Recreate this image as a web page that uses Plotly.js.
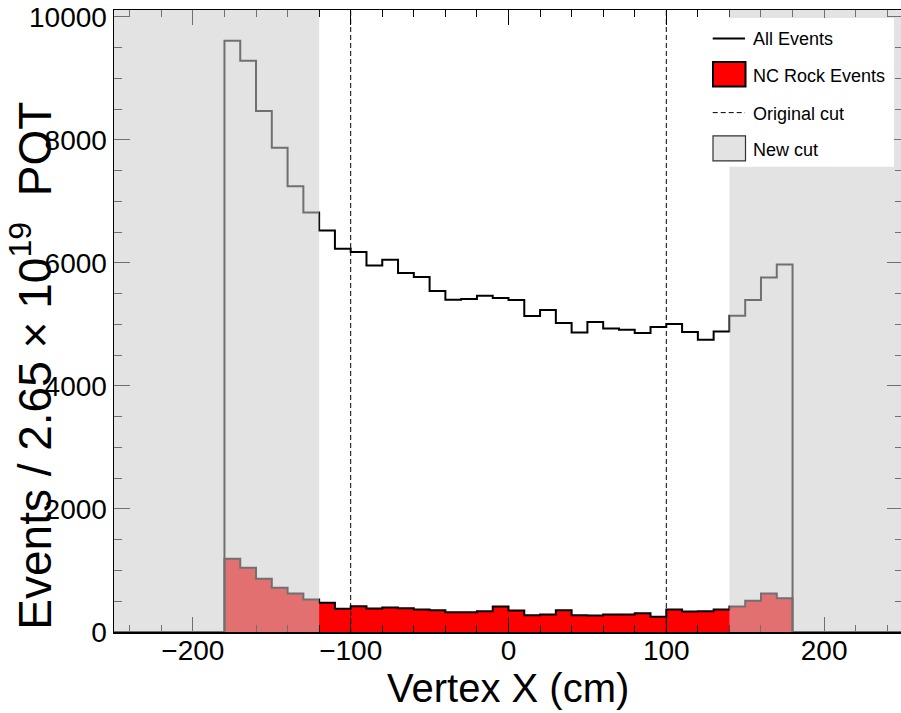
<!DOCTYPE html>
<html>
<head>
<meta charset="utf-8">
<script src="https://cdn.plot.ly/plotly-3.0.1.min.js"></script>
<style>
html,body{margin:0;padding:0;overflow:hidden;background:#fff;width:901px;height:713px}
#chart{width:903px;height:713px}
</style>
</head>
<body>
<div id="chart"></div>
<script>
// ---- data (bin lower edges, 10 cm bins) ----
const binLow = [-180,-170,-160,-150,-140,-130,-120,-110,-100,-90,-80,-70,-60,-50,-40,-30,-20,-10,
                0,10,20,30,40,50,60,70,80,90,100,110,120,130,140,150,160,170];
const allEvents = [9612,9287,8470,7869,7247,6818,6526,6229,6175,5957,6050,5834,5769,5542,5400,5412,5465,5428,
                   5396,5136,5233,5022,4869,5038,4934,4913,4860,4957,5007,4876,4751,4886,5140,5396,5763,5974];
const ncRock = [1189,1043,864,718,625,528,474,377,419,382,398,387,366,352,322,322,338,414,
                349,273,284,354,273,268,284,284,305,247,365,333,338,365,414,507,625,549];
const binWidth = 10;
const histLow = -250, histHigh = 250;
const originalCut = [-100, 100];
const newCut = [-120, 140];
const legendLabels = ["All Events", "NC Rock Events", "Original cut", "New cut"];
const xTitle = "Vertex X (cm)";
const yTitle = "Events / 2.65\u00a0\u00d7 10<sup>19</sup>\u00a0 POT";

function stepXY(vals) {
  const x = [histLow], y = [0];
  for (let i = 0; i < binLow.length; i++) { x.push(binLow[i]); y.push(vals[i]); }
  x.push(binLow[binLow.length - 1] + binWidth); y.push(0);
  x.push(histHigh); y.push(0);
  return {x, y};
}

const sRock = stepXY(ncRock);
const sAll = stepXY(allEvents);

const traces = [
  {type:'scatter', mode:'lines', x:sRock.x, y:sRock.y, line:{shape:'hv', color:'#000', width:2},
   fill:'tozeroy', fillcolor:'#ff0000', hoverinfo:'skip', name:legendLabels[1]},
  {type:'scatter', mode:'lines', x:sAll.x, y:sAll.y, line:{shape:'hv', color:'#000', width:2},
   hoverinfo:'skip', name:legendLabels[0]}
];

// pixel helpers for legend placement
const L = 114, PW = 789, T = 10, PH = 622.5;
const px = v => (v - L) / PW;
const py = v => (T + PH - v) / PH;

const shapes = [];
// New cut shading (semi-transparent over the histograms)
shapes.push({type:'rect', xref:'x', yref:'paper', x0:histLow, x1:newCut[0], y0:0, y1:1,
             fillcolor:'rgba(204,204,204,0.55)', line:{width:0}, layer:'above'});
shapes.push({type:'rect', xref:'x', yref:'paper', x0:newCut[1], x1:histHigh, y0:0, y1:1,
             fillcolor:'rgba(204,204,204,0.55)', line:{width:0}, layer:'above'});
// Original cut dashed lines
originalCut.forEach(c => shapes.push({type:'line', xref:'x', yref:'paper', x0:c, x1:c, y0:0, y1:1,
             line:{color:'#000', width:1, dash:'5px,3px'}, layer:'above'}));
// Legend box
shapes.push({type:'rect', xref:'paper', yref:'paper', x0:px(700), x1:px(894), y0:py(167), y1:py(18),
             fillcolor:'#fff', line:{width:0}, layer:'above'});
shapes.push({type:'line', xref:'paper', yref:'paper', x0:px(712.7), x1:px(745), y0:py(38.5), y1:py(38.5),
             line:{color:'#000', width:2}, layer:'above'});
shapes.push({type:'rect', xref:'paper', yref:'paper', x0:px(713), x1:px(745.5), y0:py(86.5), y1:py(62),
             fillcolor:'#ff0000', line:{color:'#000', width:2}, layer:'above'});
shapes.push({type:'line', xref:'paper', yref:'paper', x0:px(712.7), x1:px(745), y0:py(112.7), y1:py(112.7),
             line:{color:'#000', width:1, dash:'5px,3px'}, layer:'above'});
shapes.push({type:'rect', xref:'paper', yref:'paper', x0:px(713), x1:px(745.5), y0:py(161), y1:py(136),
             fillcolor:'#e3e3e3', line:{color:'#333', width:1.2}, layer:'above'});

const FONT = '"Liberation Sans", Arial, Helvetica, sans-serif';
const legY = [39, 76, 114, 150];
const annotations = legendLabels.map((t, i) => ({
  xref:'paper', yref:'paper', x:px(751), y:py(legY[i]), xanchor:'left', yanchor:'middle',
  text:t, showarrow:false, font:{family:FONT, size:18, color:'#000'}
}));
annotations.push({xref:'paper', yref:'paper', x:px(508), y:py(689), xanchor:'center', yanchor:'middle',
  text:xTitle, showarrow:false, font:{family:FONT, size:40, color:'#000'}});
annotations.push({xref:'paper', yref:'paper', x:px(31), y:py(366), xanchor:'center', yanchor:'middle',
  textangle:-90, text:yTitle, showarrow:false, font:{family:FONT, size:46, color:'#000'}});

const layout = {
  width:903, height:713,
  margin:{l:L, r:0, t:T, b:713 - T - PH, pad:0},
  paper_bgcolor:'#fff', plot_bgcolor:'#fff',
  showlegend:false,
  font:{family:FONT, color:'#000'},
  xaxis:{range:[histLow, histHigh], tick0:0, dtick:100, ticks:'inside', ticklen:15, tickwidth:1, tickcolor:'#000',
         showline:true, linecolor:'#000', linewidth:1.5, mirror:'ticks', showgrid:false, zeroline:false,
         ticklabelstandoff:-7,
         tickfont:{family:FONT, size:28, color:'#000'},
         minor:{tick0:0, dtick:20, ticks:'inside', ticklen:7, tickwidth:1, tickcolor:'#000', showgrid:false}},
  yaxis:{range:[0, 10110], tick0:0, dtick:2000, ticks:'inside', ticklen:16, tickwidth:1, tickcolor:'#000',
         showline:true, linecolor:'#000', linewidth:1.5, mirror:'ticks', showgrid:false, zeroline:false,
         tickformat:'d', tickfont:{family:FONT, size:28, color:'#000'},
         minor:{tick0:0, dtick:500, ticks:'inside', ticklen:8, tickwidth:1, tickcolor:'#000', showgrid:false}},
  shapes:shapes,
  annotations:annotations
};

Plotly.newPlot('chart', traces, layout, {displayModeBar:false, staticPlot:true});
</script>
</body>
</html>
